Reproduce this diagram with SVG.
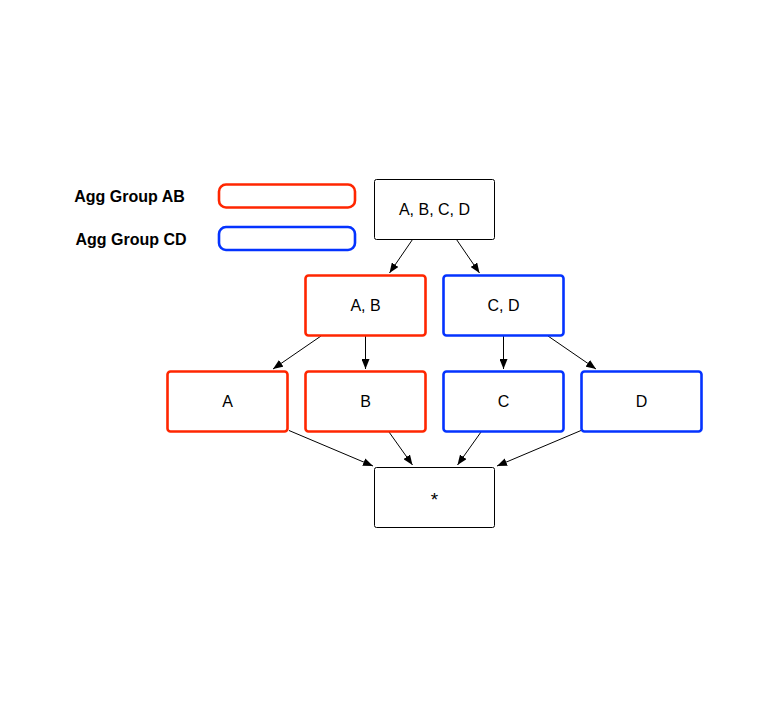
<svg xmlns="http://www.w3.org/2000/svg" width="772" height="706" viewBox="0 0 772 706">
<defs>
<marker id="ah" viewBox="0 0 10 8" refX="10" refY="4" markerWidth="10" markerHeight="8" markerUnits="userSpaceOnUse" orient="auto">
<path d="M0,0 L10,4 L0,8 Z" fill="#000"/>
</marker>
<style>
.plain{fill:#fff;stroke:#000;stroke-width:1}
.red{fill:#fff;stroke:#ff2600;stroke-width:2.6}
.blue{fill:#fff;stroke:#0433ff;stroke-width:2.6}
.lbl{font-family:"Liberation Sans",Arial,Helvetica,sans-serif;font-size:16px;fill:#000;text-anchor:middle}
.leg{font-family:"Liberation Sans",Arial,Helvetica,sans-serif;font-size:16px;font-weight:bold;fill:#000;text-anchor:middle}
.edge{stroke:#000;stroke-width:1;fill:none;marker-end:url(#ah)}
</style>
</defs>
<rect width="772" height="706" fill="#fff"/>
<g id="legend">
<text class="leg" x="129.5" y="202">Agg Group AB</text>
<rect class="red" x="219" y="184.5" width="136" height="23" rx="7"/>
<text class="leg" x="131" y="245">Agg Group CD</text>
<rect class="blue" x="219" y="227" width="136" height="23" rx="7"/>
</g>
<g id="connectors">
<line class="edge" x1="412.5" y1="239.5" x2="389.5" y2="273"/>
<line class="edge" x1="456.5" y1="239.5" x2="479.5" y2="273"/>
<line class="edge" x1="321" y1="336" x2="273" y2="369"/>
<line class="edge" x1="365.5" y1="336" x2="365.5" y2="369"/>
<line class="edge" x1="503.5" y1="336" x2="503.5" y2="369"/>
<line class="edge" x1="548" y1="336" x2="596" y2="369"/>
<line class="edge" x1="289" y1="430.5" x2="373" y2="466"/>
<line class="edge" x1="389" y1="432" x2="412.5" y2="465"/>
<line class="edge" x1="481" y1="432" x2="457.5" y2="465"/>
<line class="edge" x1="581" y1="430.5" x2="497" y2="466"/>
</g>
<g id="n-abcd">
<rect class="plain" x="374.5" y="179.5" width="120" height="60" rx="2"/>
<text class="lbl" x="434.5" y="215">A, B, C, D</text>
</g>
<g id="n-ab">
<rect class="red" x="305.5" y="275.5" width="120" height="60" rx="3"/>
<text class="lbl" x="365.5" y="311">A, B</text>
</g>
<g id="n-cd">
<rect class="blue" x="443.5" y="275.5" width="120" height="60" rx="3"/>
<text class="lbl" x="503.5" y="311">C, D</text>
</g>
<g id="n-a">
<rect class="red" x="167.5" y="371.5" width="120" height="60" rx="3"/>
<text class="lbl" x="227.5" y="407">A</text>
</g>
<g id="n-b">
<rect class="red" x="305.5" y="371.5" width="120" height="60" rx="3"/>
<text class="lbl" x="365.5" y="407">B</text>
</g>
<g id="n-c">
<rect class="blue" x="443.5" y="371.5" width="120" height="60" rx="3"/>
<text class="lbl" x="503.5" y="407">C</text>
</g>
<g id="n-d">
<rect class="blue" x="581.5" y="371.5" width="120" height="60" rx="3"/>
<text class="lbl" x="641.5" y="407">D</text>
</g>
<g id="n-star">
<rect class="plain" x="374.5" y="467.5" width="120" height="60" rx="2"/>
<text class="lbl" x="434.5" y="506" style="font-size:19px">*</text>
</g>
</svg>
